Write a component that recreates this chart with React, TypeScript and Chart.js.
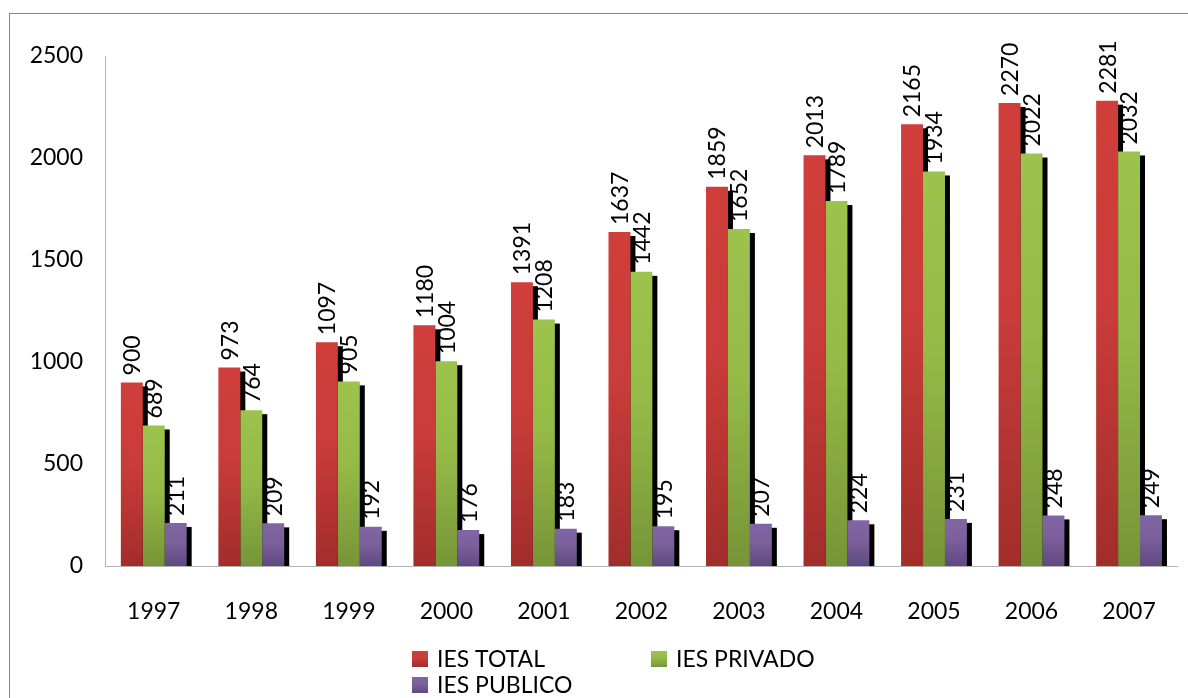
import React, { useEffect, useRef } from "react";
import { Chart, registerables } from "chart.js";

Chart.register(...registerables);

const years = ["1997", "1998", "1999", "2000", "2001", "2002", "2003", "2004", "2005", "2006", "2007"];
const iesTotal = [900, 973, 1097, 1180, 1391, 1637, 1859, 2013, 2165, 2270, 2281];
const iesPrivado = [689, 764, 905, 1004, 1208, 1442, 1652, 1789, 1934, 2022, 2032];
const iesPublico = [211, 209, 192, 176, 183, 195, 207, 224, 231, 248, 249];
const seriesNames = ["IES TOTAL", "IES PRIVADO", "IES PUBLICO"];
const yTicks = [0, 500, 1000, 1500, 2000, 2500];

const FONT = "Lato, 'Open Sans', sans-serif";

const palettes = [
  ["#CF3E3B", "#C93C39", "#A12D2B"],
  ["#9CC34C", "#95BA47", "#769537"],
  ["#8165A4", "#7B609C", "#5F4880"],
];

function makeGradient(ctx: CanvasRenderingContext2D, top: number, bottom: number, p: string[]) {
  const g = ctx.createLinearGradient(0, top, 0, bottom);
  g.addColorStop(0, p[0]);
  g.addColorStop(0.45, p[1]);
  g.addColorStop(1, p[2]);
  return g;
}

const framePlugin = {
  id: "frame",
  beforeDraw(chart: any) {
    const ctx = chart.ctx;
    ctx.save();
    ctx.strokeStyle = "#868686";
    ctx.lineWidth = 1;
    ctx.strokeRect(9.5, 13.5, 1300, 800);
    ctx.restore();
  },
};

const shadowPlugin = {
  id: "barShadow",
  beforeDatasetsDraw(chart: any) {
    const ctx = chart.ctx;
    const area = chart.chartArea;
    ctx.save();
    ctx.beginPath();
    ctx.rect(area.left, area.top, area.right - area.left, area.bottom - area.top);
    ctx.clip();
    ctx.fillStyle = "#000";
    chart.data.datasets.forEach((_: any, i: number) => {
      const meta = chart.getDatasetMeta(i);
      meta.data.forEach((el: any) => {
        const w = el.width;
        ctx.fillRect(el.x - w / 2 + 5, el.y + 4, w, el.base - el.y - 4);
      });
    });
    ctx.restore();
  },
};

const labelPlugin = {
  id: "valueLabels",
  afterDatasetsDraw(chart: any) {
    const ctx = chart.ctx;
    ctx.save();
    ctx.fillStyle = "#000";
    ctx.font = `23px ${FONT}`;
    ctx.textAlign = "left";
    ctx.textBaseline = "middle";
    chart.data.datasets.forEach((ds: any, i: number) => {
      const meta = chart.getDatasetMeta(i);
      meta.data.forEach((el: any, j: number) => {
        ctx.save();
        ctx.translate(el.x + 1, el.y - 7);
        ctx.rotate(-Math.PI / 2);
        ctx.fillText(String(ds.data[j]), 0, 0);
        ctx.restore();
      });
    });
    ctx.restore();
  },
};

const legendPlugin = {
  id: "customLegend",
  afterDraw(chart: any) {
    const ctx = chart.ctx;
    const spots = [
      [412, 651],
      [651, 651],
      [412, 677],
    ];
    ctx.save();
    ctx.font = `23px ${FONT}`;
    ctx.textAlign = "left";
    ctx.textBaseline = "middle";
    chart.data.datasets.forEach((ds: any, i: number) => {
      const [x, y] = spots[i];
      ctx.fillStyle = makeGradient(ctx, y, y + 16, palettes[i]);
      ctx.fillRect(x, y, 16, 16);
      ctx.fillStyle = "#000";
      ctx.fillText(ds.label, x + 25, y + 9);
    });
    ctx.restore();
  },
};

export default function App() {
  const ref = useRef<HTMLCanvasElement>(null);

  useEffect(() => {
    if (!ref.current) return;
    const seriesData = [iesTotal, iesPrivado, iesPublico];
    const chart = new Chart(ref.current, {
      type: "bar",
      data: {
        labels: years,
        datasets: seriesData.map((d, i) => ({
          label: seriesNames[i],
          data: d,
          borderWidth: 0,
          backgroundColor: (c: any) => {
            const ch = c.chart;
            const p = palettes[i];
            if (!ch.chartArea || c.raw === undefined) return p[0];
            const ys = ch.scales.y;
            const top = ys.getPixelForValue(c.raw);
            const bottom = ys.getPixelForValue(0);
            return makeGradient(ch.ctx, top, bottom + 0.01, p);
          },
        })),
      },
      options: {
        responsive: false,
        animation: false,
        devicePixelRatio: 1,
        color: "#000",
        layout: { padding: { left: 0, right: 6, top: 56, bottom: 72 } },
        datasets: {
          bar: { categoryPercentage: 0.675, barPercentage: 1.0 },
        },
        plugins: {
          legend: { display: false },
          tooltip: { enabled: false },
          title: { display: false },
        },
        scales: {
          x: {
            grid: { display: false, drawTicks: false },
            border: { display: true, color: "#B3B3B3", width: 1 },
            ticks: { color: "#000", font: { family: FONT, size: 23 }, padding: 32, maxRotation: 0 },
            afterFit: (s: any) => {
              s.height = 60;
            },
          },
          y: {
            min: 0,
            max: 2500,
            grid: { display: false, drawTicks: false },
            border: { display: true, color: "#B3B3B3", width: 1 },
            afterBuildTicks: (s: any) => {
              s.ticks = yTicks.map((v) => ({ value: v }));
            },
            ticks: {
              color: "#000",
              font: { family: FONT, size: 23 },
              padding: 22,
              callback: (v: any) => String(v),
            },
            afterFit: (s: any) => {
              s.width = 105;
            },
          },
        },
      },
      plugins: [framePlugin, shadowPlugin, labelPlugin, legendPlugin],
    } as any);
    return () => chart.destroy();
  }, []);

  return (
    <div style={{ position: "absolute", left: 0, top: 0, width: 1188, height: 698, background: "#fff" }}>
      <canvas ref={ref} width={1188} height={698} style={{ display: "block" }} />
    </div>
  );
}
